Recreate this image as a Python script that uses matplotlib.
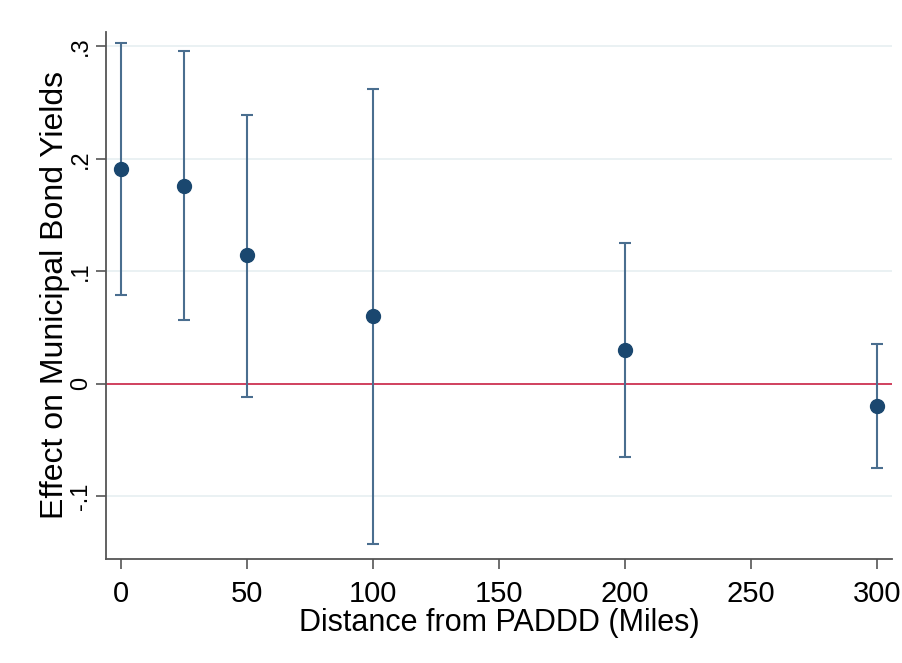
import matplotlib
matplotlib.use('Agg')
import matplotlib.pyplot as plt
import numpy as np

plt.rcParams['font.family'] = ['Liberation Sans', 'DejaVu Sans']

# distance bins (miles) and estimates with confidence bounds
distance = [0, 25, 50, 100, 200, 300]
effect = [0.191, 0.176, 0.114, 0.060, 0.0295, -0.0196]
ci_low = [0.0786, 0.0563, -0.0116, -0.143, -0.065, -0.075]
ci_high = [0.303, 0.2955, 0.239, 0.2625, 0.125, 0.035]

yticks = [-0.1, 0, 0.1, 0.2, 0.3]
ytick_labels = ['-.1', '0', '.1', '.2', '.3']
xticks = [0, 50, 100, 150, 200, 250, 300]

fig = plt.figure(figsize=(9.02, 6.63), dpi=100)
ax = fig.add_axes([0.1175, 0.157, 0.8715, 0.795])

effect = np.array(effect)
yerr = [effect - np.array(ci_low), np.array(ci_high) - effect]

for yv in [-0.1, 0.1, 0.2, 0.3]:
    ax.axhline(yv, color='#e6eff1', lw=1.2, zorder=0)
ax.axhline(0, color='#d0405e', lw=1.4, zorder=1)

ax.errorbar(distance, effect, yerr=yerr, fmt='none', ecolor='#4a6e8f',
            elinewidth=1.5, capsize=4.5, capthick=1.5, zorder=2)
ax.plot(distance, effect, 'o', color='#1a476f', markersize=10, zorder=3)

ax.set_xlim(-5.8, 306)
ax.set_ylim(-0.156, 0.313)
ax.set_xticks(xticks)
ax.set_yticks(yticks)
ax.set_yticklabels(ytick_labels, rotation=90, va='center')

for s in ['top', 'right']:
    ax.spines[s].set_visible(False)
for s in ['left', 'bottom']:
    ax.spines[s].set_color('#555555')
    ax.spines[s].set_linewidth(1.3)

ax.tick_params(axis='x', labelsize=21, length=7, width=1.2, color='#555555', pad=8)
ax.tick_params(axis='y', labelsize=17, length=7, width=1.2, color='#555555', pad=3)

ax.set_xlabel('Distance from PADDD (Miles)', fontsize=22, labelpad=0)
ax.set_ylabel('Effect on Municipal Bond Yields', fontsize=23, labelpad=0)

fig.savefig('out.png', dpi=100)
